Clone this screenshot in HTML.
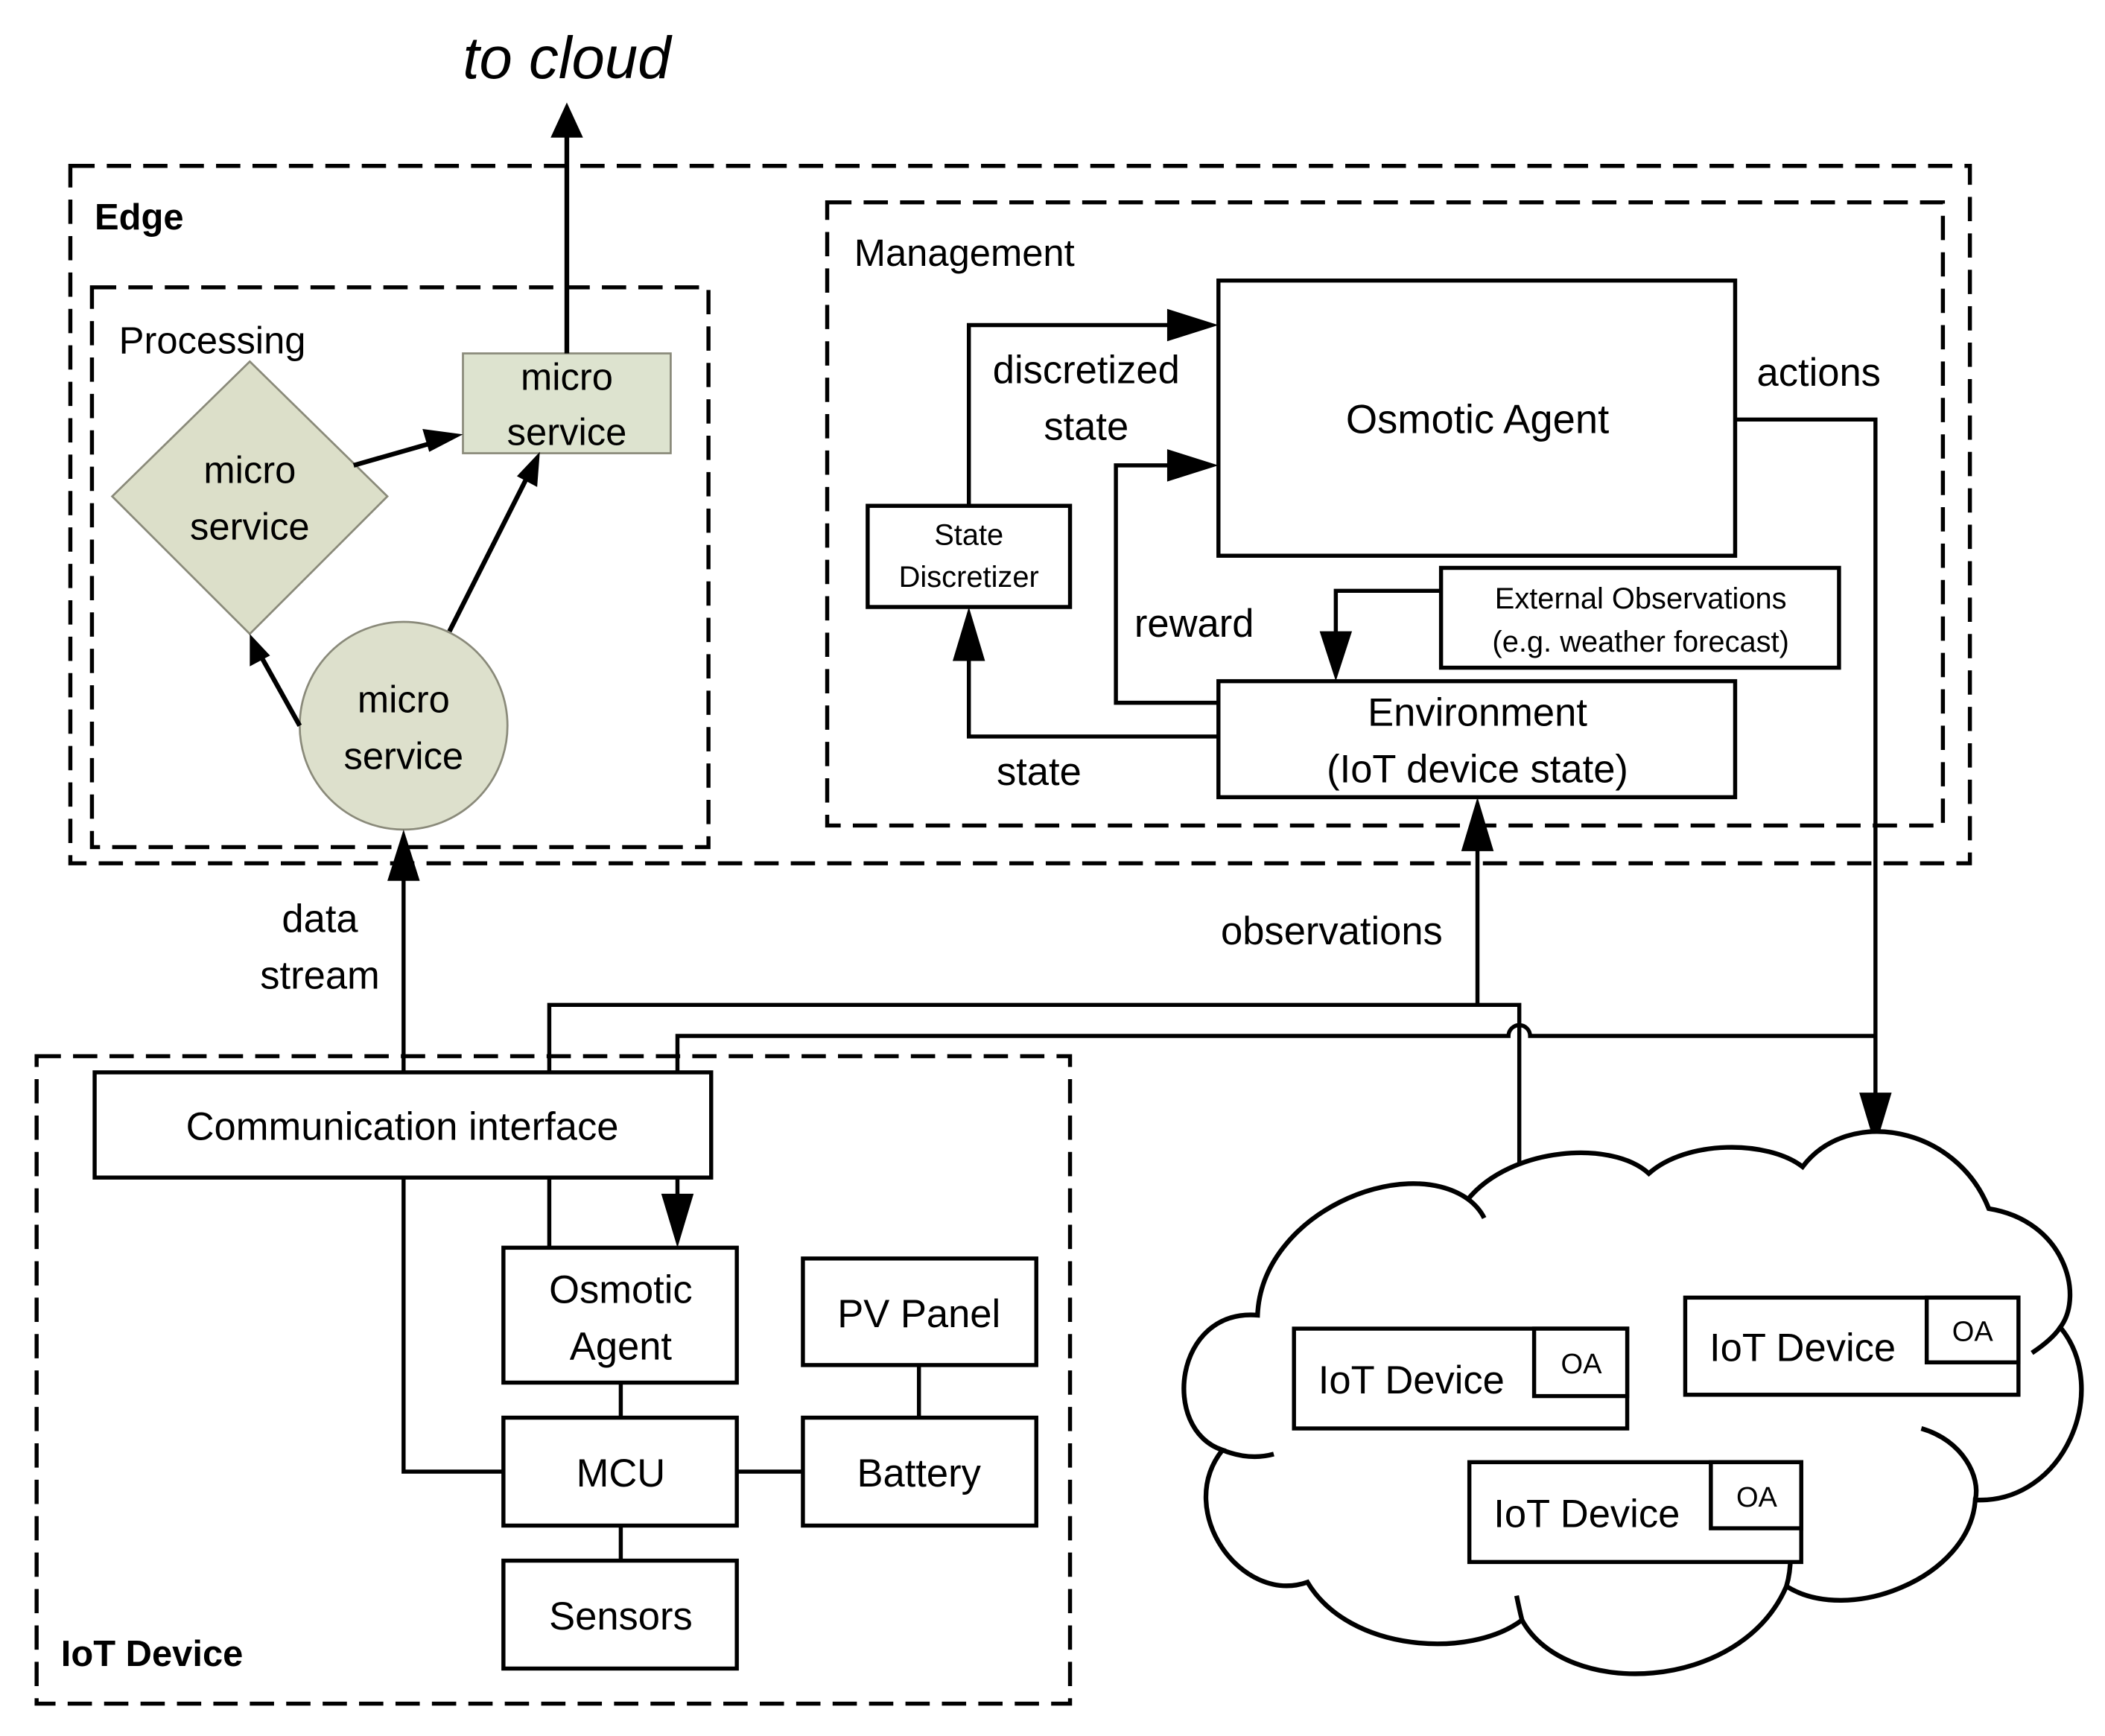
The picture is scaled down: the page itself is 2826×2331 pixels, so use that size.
<!DOCTYPE html>
<html><head><meta charset="utf-8">
<style>
html,body{margin:0;padding:0;background:#fff;}
svg{display:block;}
text{font-family:"Liberation Sans",sans-serif;fill:#000;}
</style></head>
<body>
<svg width="2826" height="2331" viewBox="0 0 1560 1287" xmlns="http://www.w3.org/2000/svg">
<defs>
<marker id="a" markerWidth="10" markerHeight="10" refX="9" refY="5" orient="auto" markerUnits="userSpaceOnUse" viewBox="0 0 10 10">
</marker>
</defs>
<rect width="1560" height="1287" fill="#fff"/>
<g fill="none" stroke="#000" stroke-width="3" stroke-dasharray="18 9">
<rect x="52" y="123" width="1408" height="517"/>
<rect x="68" y="213" width="457" height="415"/>
<rect x="613" y="150" width="827" height="462"/>
<rect x="27" y="783" width="766" height="480"/>
</g>
<g font-size="28">
<text x="70" y="170" font-weight="bold" font-size="27">Edge</text>
<text x="45" y="1235" font-weight="bold" font-size="27">IoT Device</text>
<text x="88" y="262">Processing</text>
<text x="633" y="197">Management</text>
</g>
<!-- processing shapes -->
<polygon points="185,268 287,368 185,470 83,368" fill="#dcdfc9" stroke="#8a8a7a" stroke-width="1.5"/>
<rect x="343" y="262" width="154" height="74" fill="#dde3cf" stroke="#8a8a7a" stroke-width="1.5"/>
<circle cx="299" cy="538" r="77" fill="#dde0cc" stroke="#8a8a7a" stroke-width="1.5"/>
<g font-size="28" text-anchor="middle">
<text x="185" y="358">micro</text><text x="185" y="400">service</text>
<text x="420" y="289">micro</text><text x="420" y="330">service</text>
<text x="299" y="528">micro</text><text x="299" y="570">service</text>
</g>
<g stroke="#000" stroke-width="3.5" fill="none">
<line x1="262" y1="345" x2="325" y2="327"/>
<line x1="333" y1="468" x2="392" y2="351"/>
<line x1="222" y1="538" x2="193" y2="486"/>
<line x1="420" y1="262" x2="420" y2="100"/>
</g>
<g fill="#000">
<polygon points="343,322 318,335 313,318"/>
<polygon points="400,335 398,361 383,353"/>
<polygon points="185,470 200,486 185,494"/>
<polygon points="420,76 408,102 432,102"/>
</g>
<text x="420" y="58" font-size="44" font-style="italic" text-anchor="middle">to cloud</text>

<!-- management -->
<g fill="#fff" stroke="#000" stroke-width="3">
<rect x="903" y="208" width="383" height="204"/>
<rect x="643" y="375" width="150" height="75"/>
<rect x="1068" y="421" width="295" height="74"/>
<rect x="903" y="505" width="383" height="86"/>
</g>
<g text-anchor="middle">
<text x="1095" y="321" font-size="30">Osmotic Agent</text>
<text x="718" y="404" font-size="22">State</text>
<text x="718" y="435" font-size="22">Discretizer</text>
<text x="1216" y="451" font-size="22">External Observations</text>
<text x="1216" y="483" font-size="22">(e.g. weather forecast)</text>
<text x="1095" y="538" font-size="29">Environment</text>
<text x="1095" y="580" font-size="29">(IoT device state)</text>
<text x="805" y="284" font-size="29">discretized</text>
<text x="805" y="326" font-size="29">state</text>
<text x="885" y="472" font-size="29">reward</text>
<text x="770" y="582" font-size="29">state</text>
<text x="1348" y="286" font-size="29">actions</text>
<text x="987" y="700" font-size="29">observations</text>
<text x="237" y="691" font-size="29">data</text>
<text x="237" y="733" font-size="29">stream</text>
</g>
<g stroke="#000" stroke-width="3" fill="none">
<polyline points="718,375 718,241 870,241"/>
<polyline points="903,521 827,521 827,345 870,345"/>
<polyline points="903,546 718,546 718,482"/>
<polyline points="1068,438 990,438 990,475"/>
<polyline points="1286,311 1390,311 1390,815"/>
<line x1="1095" y1="745" x2="1095" y2="625"/>
<line x1="299" y1="795" x2="299" y2="648"/>
<polyline points="407,795 407,745 1126,745 1126,872"/>
<path d="M502,795 L502,768 L1118,768 A8,8 0 0 1 1134,768 L1390,768"/>
<line x1="407" y1="873" x2="407" y2="925"/>
<line x1="502" y1="873" x2="502" y2="890"/>
<polyline points="299,873 299,1091 373,1091"/>
<line x1="460" y1="1025" x2="460" y2="1051"/>
<line x1="460" y1="1131" x2="460" y2="1157"/>
<line x1="546" y1="1091" x2="595" y2="1091"/>
<line x1="681" y1="1012" x2="681" y2="1051"/>
</g>
<g fill="#000">
<polygon points="903,241 865,229 865,253"/>
<polygon points="903,345 865,333 865,357"/>
<polygon points="718,450 706,490 730,490"/>
<polygon points="990,505 978,468 1002,468"/>
<polygon points="1390,850 1378,810 1402,810"/>
<polygon points="1095,591 1083,631 1107,631"/>
<polygon points="299,615 287,653 311,653"/>
<polygon points="502,925 490,885 514,885"/>
</g>

<!-- IoT device -->
<g fill="#fff" stroke="#000" stroke-width="3">
<rect x="70" y="795" width="457" height="78"/>
<rect x="373" y="925" width="173" height="100"/>
<rect x="595" y="933" width="173" height="79"/>
<rect x="373" y="1051" width="173" height="80"/>
<rect x="595" y="1051" width="173" height="80"/>
<rect x="373" y="1157" width="173" height="80"/>
</g>
<g text-anchor="middle" font-size="29">
<text x="298" y="845">Communication interface</text>
<text x="460" y="966">Osmotic</text>
<text x="460" y="1008">Agent</text>
<text x="681" y="984">PV Panel</text>
<text x="460" y="1102">MCU</text>
<text x="681" y="1102">Battery</text>
<text x="460" y="1208">Sensors</text>
</g>

<!-- cloud -->
<g stroke="#000" stroke-width="3.5" fill="none">
<path d="M932,975 C935,900 1040,855 1088,889 C1120,850 1195,845 1222,870 C1250,845 1310,845 1336,865 C1370,820 1450,835 1474,896 C1530,905 1545,960 1527,984 C1565,1030 1530,1115 1464,1112 C1460,1170 1370,1205 1324,1176 C1290,1255 1160,1260 1128,1201 C1090,1230 1000,1225 969,1173 C920,1190 870,1120 906,1075 C860,1060 870,970 932,975 Z" fill="#fff"/>
<path d="M1088,889 q8,6 12,14"/>
<path d="M1424,1059 C1455,1068 1468,1095 1464,1112"/>
<path d="M1506,1003 q15,-10 21,-19"/>
<path d="M1327,1154 q0,12 -3,22"/>
<path d="M1124,1183 q2,10 4,18"/>
<path d="M906,1075 q20,8 38,3"/>
</g>
<g fill="#fff" stroke="#000" stroke-width="3">
<rect x="959" y="985" width="247" height="74"/>
<rect x="1137" y="985" width="69" height="50"/>
<rect x="1249" y="962" width="247" height="72"/>
<rect x="1428" y="962" width="68" height="48"/>
<rect x="1089" y="1084" width="246" height="74"/>
<rect x="1268" y="1084" width="67" height="49"/>
</g>
<g font-size="29">
<text x="977" y="1033">IoT Device</text>
<text x="1267" y="1009">IoT Device</text>
<text x="1107" y="1132">IoT Device</text>
</g>
<g font-size="21" text-anchor="middle">
<text x="1172" y="1018">OA</text>
<text x="1462" y="994">OA</text>
<text x="1302" y="1117">OA</text>
</g>
</svg>
</body></html>
